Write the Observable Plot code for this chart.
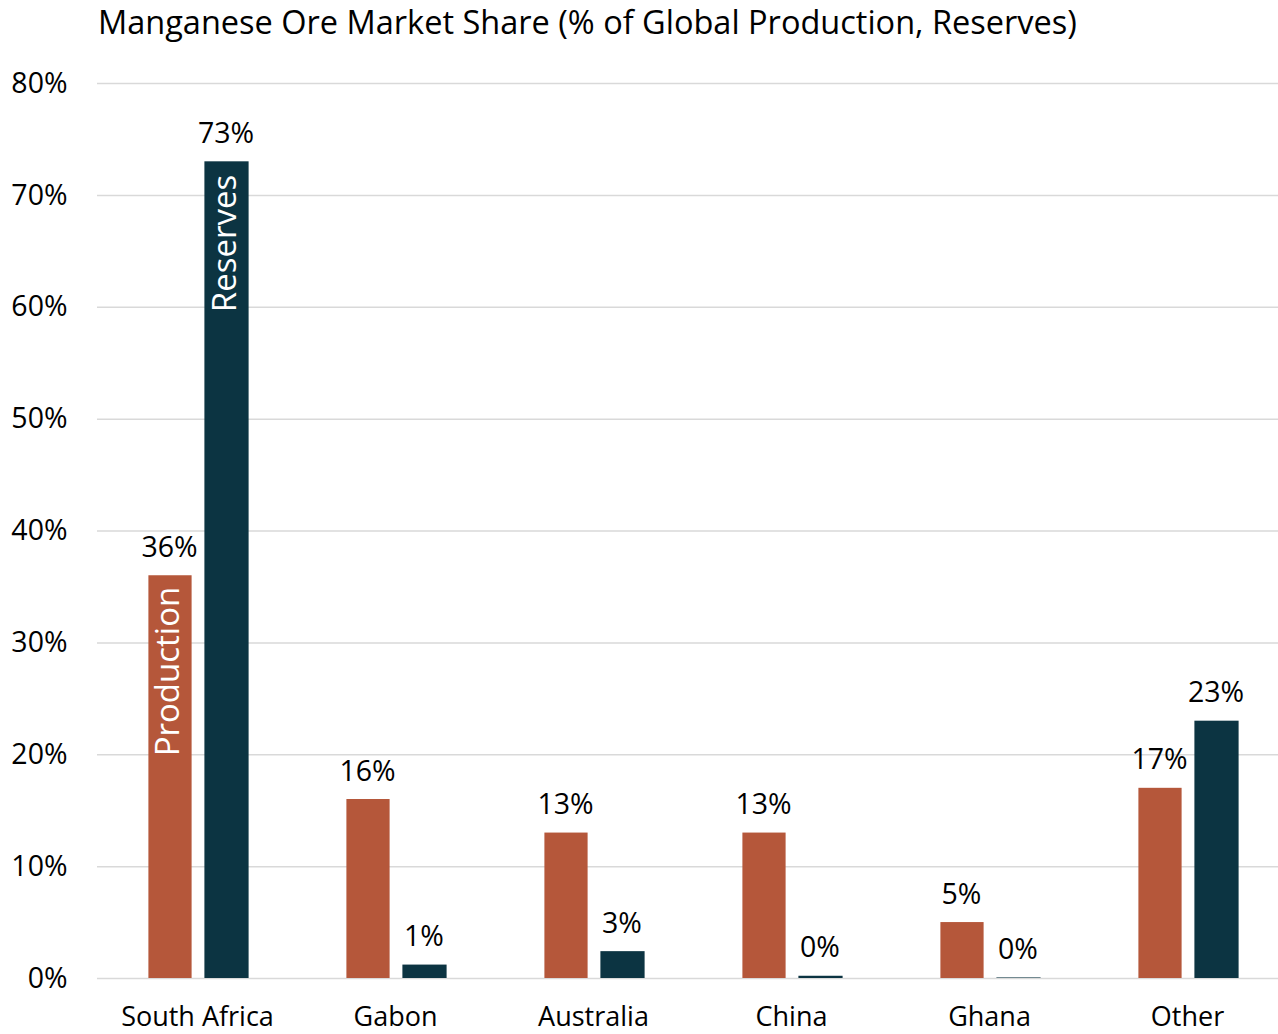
<!DOCTYPE html>
<html>
<head>
<meta charset="utf-8">
<script src="https://cdn.jsdelivr.net/npm/d3@7"></script>
<script src="https://cdn.jsdelivr.net/npm/@observablehq/plot@0.6"></script>
<style>
  html, body { margin: 0; padding: 0; background: #fff; }
  body { width: 1278px; height: 1034px; overflow: hidden; font-family: "Open Sans", sans-serif; }
  #title { height: 42px; padding-top: 3px; padding-left: 98px; font-size: 32.5px; line-height: 38px; color: #000; white-space: nowrap; }
  #chart svg { display: block; }
</style>
</head>
<body>
<div id="title">Manganese Ore Market Share (% of Global Production, Reserves)</div>
<div id="chart"></div>
<script>
const countries = ["South Africa", "Gabon", "Australia", "China", "Ghana", "Other"];
const production = [36, 16, 13, 13, 5, 17];
const reserves = [73, 1.2, 2.4, 0.2, 0.05, 23];
const productionLabels = ["36%", "16%", "13%", "13%", "5%", "17%"];
const reserveLabels = ["73%", "1%", "3%", "0%", "0%", "23%"];
const yTicks = [0, 10, 20, 30, 40, 50, 60, 70, 80];

const colors = { Production: "#B5573A", Reserves: "#0C3442" };

const prod = countries.map((c, i) => ({ country: c, value: production[i], label: productionLabels[i] }));
const res = countries.map((c, i) => ({ country: c, value: reserves[i], label: reserveLabels[i] }));

const chart = Plot.plot({
  width: 1278,
  height: 989,
  marginTop: 38,
  marginBottom: 56,
  marginLeft: 97,
  marginRight: 0,
  style: { fontFamily: "'Open Sans', sans-serif", color: "#000", background: "#fff" },
  x: { domain: countries, range: [95, 1288], padding: 0, label: null },
  y: { domain: [0, 80], label: null },
  marks: [
    Plot.ruleY(yTicks, { stroke: "#d9d9d9", strokeWidth: 1.5 }),
    Plot.axisY(yTicks, { tickSize: 0, tickPadding: 30, fontSize: 28.5, tickFormat: d => d + "%", label: null }),
    Plot.axisX({ tickSize: 0, tickPadding: 28, fontSize: 27, label: null }),
    Plot.barY(prod, { x: "country", y: "value", fill: colors.Production, insetLeft: 50.4, insetRight: 104.4 }),
    Plot.barY(res, { x: "country", y: "value", fill: colors.Reserves, insetLeft: 106.4, insetRight: 47.4 }),
    Plot.text(prod, { x: "country", y: "value", text: "label", dx: -28, dy: -19, lineAnchor: "bottom", fontSize: 28.5, fill: "#000" }),
    Plot.text(res, { x: "country", y: "value", text: "label", dx: 28.5, dy: -19, lineAnchor: "bottom", fontSize: 28.5, fill: "#000" }),
    Plot.text(prod.slice(0, 1), { x: "country", y: "value", text: () => "Production", rotate: -90, textAnchor: "end", dx: -29, dy: 11, fontSize: 33, fill: "#fff" }),
    Plot.text(res.slice(0, 1), { x: "country", y: "value", text: () => "Reserves", rotate: -90, textAnchor: "end", dx: 28, dy: 13, fontSize: 33, fill: "#fff" })
  ]
});
document.getElementById("chart").appendChild(chart);
</script>
</body>
</html>
